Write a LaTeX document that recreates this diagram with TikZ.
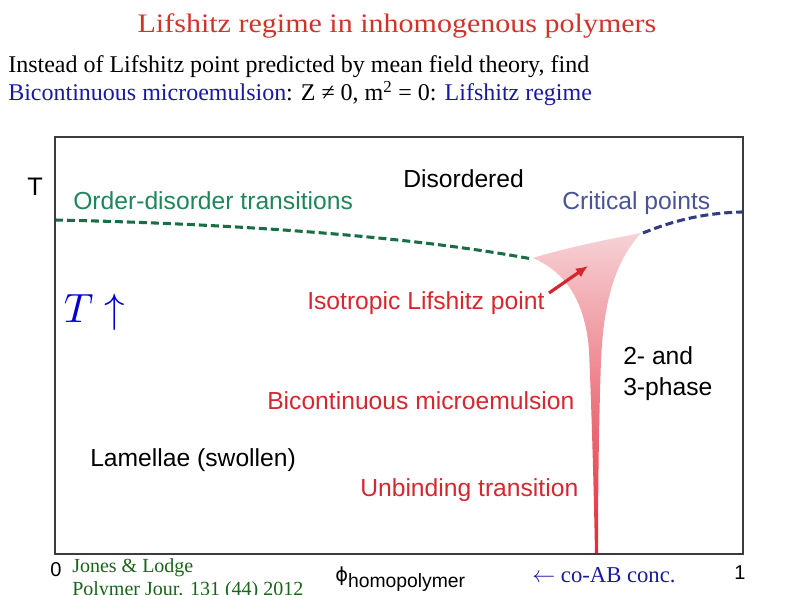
\documentclass[tikz,border=0pt]{standalone}
\usepackage{fontspec}
\setmainfont{Liberation Serif}
\setsansfont{Liberation Sans}
\newfontfamily\djsans{DejaVu Sans}
\usetikzlibrary{arrows.meta}
\definecolor{titlered}{RGB}{208,52,40}
\definecolor{bodyblue}{RGB}{25,25,160}
\definecolor{labred}{RGB}{212,40,48}
\definecolor{odgreen}{RGB}{30,135,90}
\definecolor{odline}{RGB}{25,110,70}
\definecolor{cpblue}{RGB}{72,84,150}
\definecolor{cpline}{RGB}{50,60,130}
\definecolor{refgreen}{RGB}{25,100,25}
\definecolor{tblue}{RGB}{0,0,210}
\definecolor{boxgray}{RGB}{60,60,60}
\definecolor{pinktop}{RGB}{246,210,214}
\definecolor{pinkmid}{RGB}{238,125,135}
\definecolor{redbot}{RGB}{228,40,55}
\tikzset{
  txt/.style={inner sep=0pt, anchor=base west},
  serifL/.style={txt, font=\fontsize{18}{22}\selectfont},
  lab/.style={txt, font=\sffamily\fontsize{18.5}{22}\selectfont},
  dashline/.style={line width=2.3pt, dash pattern=on 6pt off 3pt},
}
\begin{document}
\begin{tikzpicture}[x=0.75pt, y=-0.75pt]
\useasboundingbox (0,0) rectangle (794,595);
% funnel
\shade[top color=pinktop, middle color=pinkmid, bottom color=redbot, shading angle=0]
  (533,258) .. controls (565,272) and (585,300) .. (589,350)
  .. controls (592,420) and (594,500) .. (595,553)
  -- (598,553)
  .. controls (598,480) and (599,420) .. (601,360)
  .. controls (604,300) and (615,262) .. (641,233)
  .. controls (605,240) and (565,248) .. cycle;
% dashed curves
\coordinate (g0) at (55,220);
\coordinate (g1) at (532,259);
\coordinate (b0) at (643,233);
\coordinate (b1) at (742,212);
\draw[dashline, odline] (g0) .. controls (250,224) and (420,238) .. (g1);
\draw[dashline, cpline] (b0) .. controls (675,220) and (705,213) .. (b1);
% box
\draw[boxgray, line width=1.6pt] (55,137) rectangle (743,554);
% title and text
\node[inner sep=0pt, anchor=base, text=titlered, font=\fontsize{20}{24}\selectfont, xscale=1.126] (title) at (397,33) {Lifshitz regime in inhomogenous polymers};
\node[serifL] (l1) at (8,73) {Instead of Lifshitz point predicted by mean field theory, find};
\node[serifL] (l2) at (8,101) {\textcolor{bodyblue}{Bicontinuous microemulsion}: Z ≠ 0, m\textsuperscript{2} = 0: \textcolor{bodyblue}{Lifshitz regime}};
% plot labels
\node[lab, font=\sffamily\fontsize{19}{22}\selectfont] (Tax) at (27,196) {T};
\node[lab, text=odgreen] (od) at (73,210) {Order-disorder transitions};
\node[lab] (dis) at (403,188) {Disordered};
\node[lab, text=cpblue] (cp) at (562,210) {Critical points};
\node[lab, text=labred] (ilp) at (307,310) {Isotropic Lifshitz point};
\node[txt, text=tblue, scale=3.07] (Tup) at (63,323) {$T\uparrow$};
\node[lab] (two) at (623,365) {2- and};
\node[lab] (three) at (623,396) {3-phase};
\node[lab, text=labred] (bme) at (267,410) {Bicontinuous microemulsion};
\node[lab] (lam) at (90,467) {Lamellae (swollen)};
\node[lab, text=labred] (unb) at (360,497) {Unbinding transition};
\coordinate (arrS) at (549,293);
\coordinate (arrE) at (588,266);
\draw[labred, line width=2.4pt, -{Latex[length=9pt,width=8pt]}] (arrS) -- (arrE);
% axis ends
\node[lab, font=\sffamily\fontsize{15}{18}\selectfont] (zero) at (50,577) {0};
\node[lab, font=\sffamily\fontsize{15}{18}\selectfont] (one) at (734,580) {1};
\node[txt, text=refgreen, font=\fontsize{15}{18}\selectfont] (ref1) at (72,573) {Jones \& Lodge};
\node[txt, text=refgreen, font=\fontsize{15}{18}\selectfont] (ref2) at (72,596) {Polymer Jour. 131 (44) 2012};
\node[txt, font=\sffamily\fontsize{14.5}{18}\selectfont] (phi) at (335,582) {{\djsans ɸ}\raisebox{-4.5pt}{homopolymer}};
\node[txt, text=bodyblue, font=\fontsize{17}{20}\selectfont] (coab) at (532,583) {$\leftarrow$ co-AB conc.};
\end{tikzpicture}
\end{document}
